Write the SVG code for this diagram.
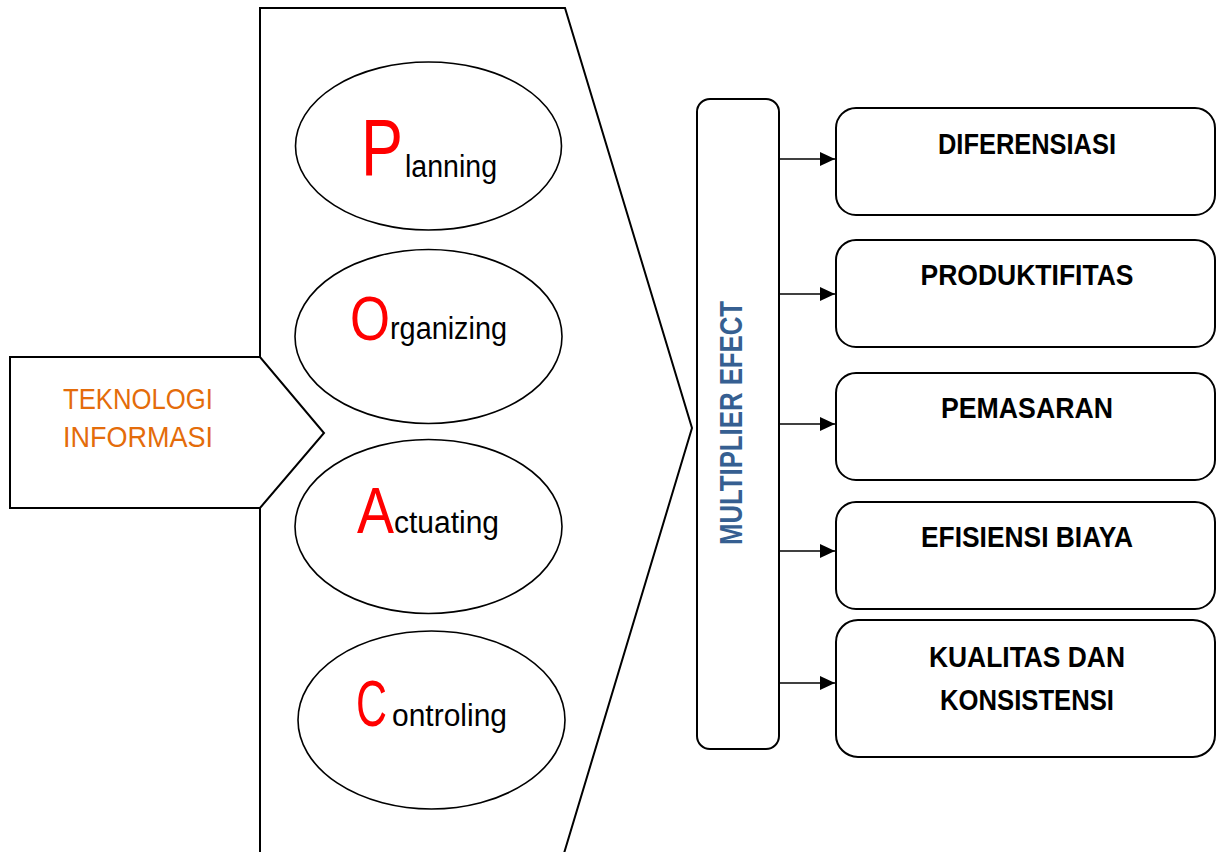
<svg xmlns="http://www.w3.org/2000/svg" width="1217" height="852" viewBox="0 0 1217 852">
<defs>
<style>
.shape{fill:#fff;stroke:#000;stroke-width:2}
.ell{fill:#fff;stroke:#000;stroke-width:1.6}
.big{font-family:"Liberation Sans",Arial,sans-serif;fill:#ff0000}
.small{font-family:"Liberation Sans",Arial,sans-serif;font-size:31px;fill:#000}
.lbl{font-family:"Liberation Sans",Arial,sans-serif;font-size:29px;font-weight:bold;fill:#000;text-anchor:middle}
.conn{stroke:#000;stroke-width:1.6;fill:none}
</style>
<marker id="ah" viewBox="0 0 15 14" refX="15" refY="7" markerWidth="15" markerHeight="14" markerUnits="userSpaceOnUse" orient="auto">
<path d="M0,0 L15,7 L0,14 Z" fill="#000"/>
</marker>
</defs>
<rect width="1217" height="852" fill="#fff"/>
<g id="poac-chevron">
<polygon class="shape" points="260,8 565,8 692,428 562,860 260,860"/>
</g>
<g id="teknologi-informasi">
<polygon class="shape" points="10,357 260,357 324,433 260,508 10,508"/>
<text font-family="Liberation Sans, Arial, sans-serif" font-size="30" fill="#E46C0A">
<tspan x="63" y="409" textLength="150" lengthAdjust="spacingAndGlyphs">TEKNOLOGI</tspan>
<tspan x="63" y="447" textLength="150" lengthAdjust="spacingAndGlyphs">INFORMASI</tspan>
</text>
</g>
<g id="planning">
<ellipse class="ell" cx="428.5" cy="146" rx="133" ry="84"/>
<text><tspan class="big" x="361" y="175" font-size="80" textLength="42" lengthAdjust="spacingAndGlyphs">P</tspan><tspan class="small" x="405" y="177" textLength="92" lengthAdjust="spacingAndGlyphs">lanning</tspan></text>
</g>
<g id="organizing">
<ellipse class="ell" cx="428.5" cy="336.5" rx="133.5" ry="87"/>
<text><tspan class="big" x="350" y="340" font-size="63" textLength="40" lengthAdjust="spacingAndGlyphs">O</tspan><tspan class="small" x="390" y="339" textLength="117" lengthAdjust="spacingAndGlyphs">rganizing</tspan></text>
</g>
<g id="actuating">
<ellipse class="ell" cx="428.5" cy="526.5" rx="133.5" ry="87"/>
<text><tspan class="big" x="357" y="533" font-size="64" textLength="37" lengthAdjust="spacingAndGlyphs">A</tspan><tspan class="small" x="394" y="533" textLength="105" lengthAdjust="spacingAndGlyphs">ctuating</tspan></text>
</g>
<g id="controling">
<ellipse class="ell" cx="431.5" cy="720" rx="133.5" ry="89"/>
<text><tspan class="big" x="356" y="726" font-size="64" textLength="31" lengthAdjust="spacingAndGlyphs">C</tspan><tspan class="small" x="392" y="726" textLength="115" lengthAdjust="spacingAndGlyphs">ontroling</tspan></text>
</g>
<g id="multiplier-efect">
<rect class="shape" x="697" y="99" width="82" height="650" rx="13"/>
<text transform="translate(742,545) rotate(-90)" font-family="Liberation Sans, Arial, sans-serif" font-size="32" font-weight="bold" fill="#365F91" textLength="244" lengthAdjust="spacingAndGlyphs">MULTIPLIER EFECT</text>
</g>
<g id="diferensiasi">
<rect class="shape" x="836" y="108" width="379" height="107" rx="20"/>
<text class="lbl" x="1027" y="154" textLength="178" lengthAdjust="spacingAndGlyphs">DIFERENSIASI</text>
</g>
<g id="produktifitas">
<rect class="shape" x="836" y="240" width="379" height="107" rx="20"/>
<text class="lbl" x="1027" y="285" textLength="213" lengthAdjust="spacingAndGlyphs">PRODUKTIFITAS</text>
</g>
<g id="pemasaran">
<rect class="shape" x="836" y="373" width="379" height="107" rx="20"/>
<text class="lbl" x="1027" y="418" textLength="172" lengthAdjust="spacingAndGlyphs">PEMASARAN</text>
</g>
<g id="efisiensi-biaya">
<rect class="shape" x="836" y="502" width="379" height="107" rx="20"/>
<text class="lbl" x="1027" y="547" textLength="212" lengthAdjust="spacingAndGlyphs">EFISIENSI BIAYA</text>
</g>
<g id="kualitas-dan-konsistensi">
<rect class="shape" x="836" y="620" width="379" height="137" rx="22"/>
<text class="lbl" x="1027" y="667" textLength="196" lengthAdjust="spacingAndGlyphs">KUALITAS DAN</text>
<text class="lbl" x="1027" y="710" textLength="174" lengthAdjust="spacingAndGlyphs">KONSISTENSI</text>
</g>
<g id="connectors">
<line class="conn" x1="779" y1="159" x2="835" y2="159" marker-end="url(#ah)"/>
<line class="conn" x1="779" y1="294" x2="835" y2="294" marker-end="url(#ah)"/>
<line class="conn" x1="779" y1="424" x2="835" y2="424" marker-end="url(#ah)"/>
<line class="conn" x1="779" y1="551" x2="835" y2="551" marker-end="url(#ah)"/>
<line class="conn" x1="779" y1="683" x2="835" y2="683" marker-end="url(#ah)"/>
</g>
</svg>
